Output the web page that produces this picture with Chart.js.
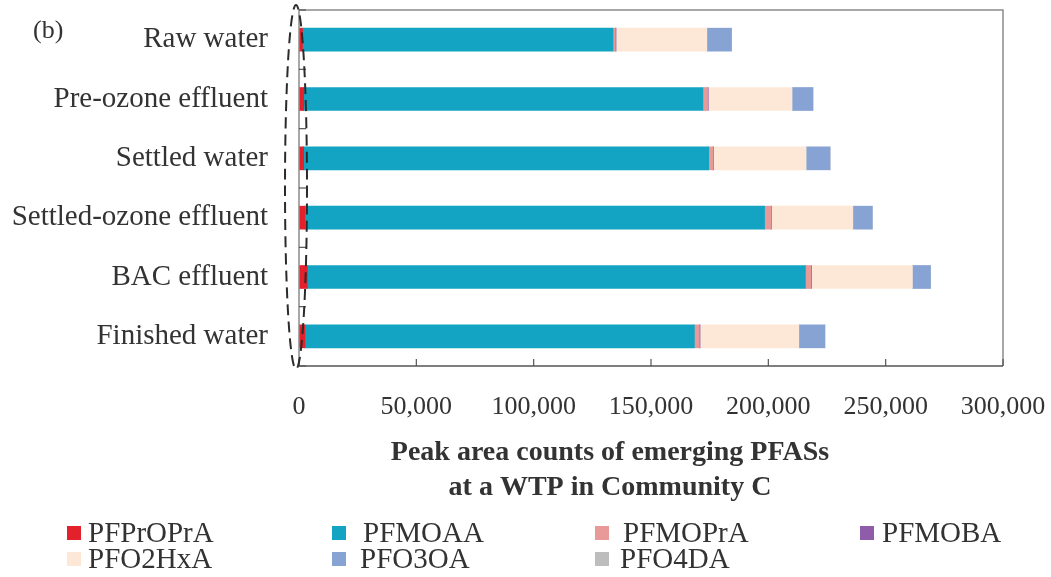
<!DOCTYPE html>
<html>
<head>
<meta charset="utf-8">
<script src="https://cdn.jsdelivr.net/npm/chart.js@4.4.1/dist/chart.umd.min.js"></script>
<style>
  html, body { margin: 0; padding: 0; background: #fff; }
  #wrap { width: 1051px; height: 577px; }
</style>
</head>
<body>
<div id="wrap"><canvas id="c" width="1051" height="577"></canvas></div>
<script>
// Etapas de tratamiento (eje Y)
const stages = ['Raw water', 'Pre-ozone effluent', 'Settled water', 'Settled-ozone effluent', 'BAC effluent', 'Finished water'];

// Conteos de área de pico por compuesto
const pfprOpra = [1500, 2000, 2000, 2500, 3500, 2500];
const pfmoaa   = [132300, 170100, 172600, 195900, 212300, 166000];
const pfmopra  = [1000, 2000, 1700, 2600, 2300, 2100];
const pfmoba   = [300, 300, 300, 300, 300, 300];
const pfo2hxa  = [38700, 35700, 39500, 34700, 43000, 42100];
const pfo3oa   = [10500, 8900, 10200, 8300, 7700, 11100];
const pfo4da   = [0, 0, 0, 0, 0, 0];

const xTicks = [0, 50000, 100000, 150000, 200000, 250000, 300000];
const titleLines = ['Peak area counts of emerging PFASs', 'at a WTP in Community C'];

const SERIF = '"Liberation Serif", "Times New Roman", serif';
const TEXT = '#333333';

const series = [
  { label: 'PFPrOPrA', data: pfprOpra, color: '#e3212d' },
  { label: 'PFMOAA',   data: pfmoaa,   color: '#13a4c3' },
  { label: 'PFMOPrA',  data: pfmopra,  color: '#e89a98' },
  { label: 'PFMOBA',   data: pfmoba,   color: '#8e5ca8' },
  { label: 'PFO2HxA',  data: pfo2hxa,  color: '#fde8d8' },
  { label: 'PFO3OA',   data: pfo3oa,   color: '#86a3d4' },
  { label: 'PFO4DA',   data: pfo4da,   color: '#bdbdbd' }
];

// Marco, marcas interiores, elipse punteada, título del eje, leyenda y "(b)"
const decorPlugin = {
  id: 'decor',
  afterDatasetsDraw(chart) {
    const ctx = chart.ctx;
    const a = chart.chartArea;
    const xs = chart.scales.x;
    ctx.save();

    // marco gris
    ctx.strokeStyle = '#8c8c8c';
    ctx.lineWidth = 1.5;
    ctx.beginPath();
    ctx.moveTo(a.left, a.bottom);
    ctx.lineTo(a.left, a.top);
    ctx.lineTo(a.right, a.top);
    ctx.lineTo(a.right, a.bottom);
    ctx.stroke();
    ctx.strokeStyle = '#555555';
    ctx.beginPath();
    ctx.moveTo(a.left, a.bottom);
    ctx.lineTo(a.right, a.bottom);
    ctx.stroke();

    // marcas del eje X hacia adentro
    ctx.lineWidth = 1.2;
    xTicks.forEach(v => {
      const px = xs.getPixelForValue(v);
      ctx.beginPath();
      ctx.moveTo(px, a.bottom);
      ctx.lineTo(px, a.bottom - 7);
      ctx.stroke();
    });
    // marcas del eje Y entre categorías
    for (let i = 0; i <= stages.length; i++) {
      const py = a.top + (a.bottom - a.top) * i / stages.length;
      ctx.beginPath();
      ctx.moveTo(a.left, py);
      ctx.lineTo(a.left + 7, py);
      ctx.stroke();
    }

    // elipse punteada alrededor del cero
    const cx = xs.getPixelForValue(0) - 3;
    ctx.strokeStyle = '#2b2b2b';
    ctx.lineWidth = 2;
    ctx.setLineDash([11, 6]);
    ctx.beginPath();
    ctx.ellipse(cx, (a.top + a.bottom) / 2 - 1, 11, (a.bottom - a.top) / 2 + 4, 0, 0, Math.PI * 2);
    ctx.stroke();
    ctx.setLineDash([]);

    // título del eje X
    ctx.fillStyle = TEXT;
    ctx.font = 'bold 28px ' + SERIF;
    ctx.textAlign = 'center';
    ctx.textBaseline = 'middle';
    ctx.fillText(titleLines[0], 610, 453);
    ctx.fillText(titleLines[1], 610, 488);

    // "(b)"
    ctx.font = '26px ' + SERIF;
    ctx.textAlign = 'left';
    ctx.fillText('(b)', 33, 31);

    // leyenda en 4 columnas
    const boxX = [67, 332, 595, 860];
    const textGap = [[21, 31, 28, 22], [21, 28, 25, 22]];
    const rowY = [533, 559];
    ctx.font = '29px ' + SERIF;
    series.forEach((s, i) => {
      const r = Math.floor(i / 4), c = i % 4;
      ctx.fillStyle = s.color;
      ctx.fillRect(boxX[c], rowY[r] - 7, 14, 14);
      ctx.fillStyle = TEXT;
      ctx.fillText(s.label, boxX[c] + textGap[r][c], rowY[r] + 1);
    });

    ctx.restore();
  }
};

new Chart(document.getElementById('c'), {
  type: 'bar',
  data: {
    labels: stages,
    datasets: series.map(s => ({
      label: s.label,
      data: s.data,
      backgroundColor: s.color,
      borderWidth: 0,
      barThickness: 23
    }))
  },
  options: {
    indexAxis: 'y',
    responsive: false,
    animation: false,
    devicePixelRatio: 1,
    layout: { padding: { top: 10, right: 48, bottom: 151, left: 0 } },
    plugins: { legend: { display: false }, tooltip: { enabled: false } },
    scales: {
      x: {
        stacked: true,
        min: 0,
        max: 300000,
        afterBuildTicks: (scale) => { scale.ticks = xTicks.map(v => ({ value: v })); },
        afterFit: (scale) => {
          scale.height = 60;
          scale.paddingLeft = 0;
          scale.paddingRight = 0;
        },
        grid: { display: false, drawTicks: false },
        border: { display: false },
        ticks: {
          padding: 26,
          maxRotation: 0,
          minRotation: 0,
          color: TEXT,
          font: { family: SERIF, size: 26 },
          callback: (v) => Number(v).toLocaleString('en-US')
        }
      },
      y: {
        stacked: true,
        afterFit: (scale) => {
          scale.width = 299;
          scale.paddingTop = 0;
          scale.paddingBottom = 0;
        },
        grid: { display: false, drawTicks: false },
        border: { display: false },
        ticks: {
          padding: 31,
          color: TEXT,
          font: { family: SERIF, size: 29 }
        }
      }
    }
  },
  plugins: [decorPlugin]
});
</script>
</body>
</html>
